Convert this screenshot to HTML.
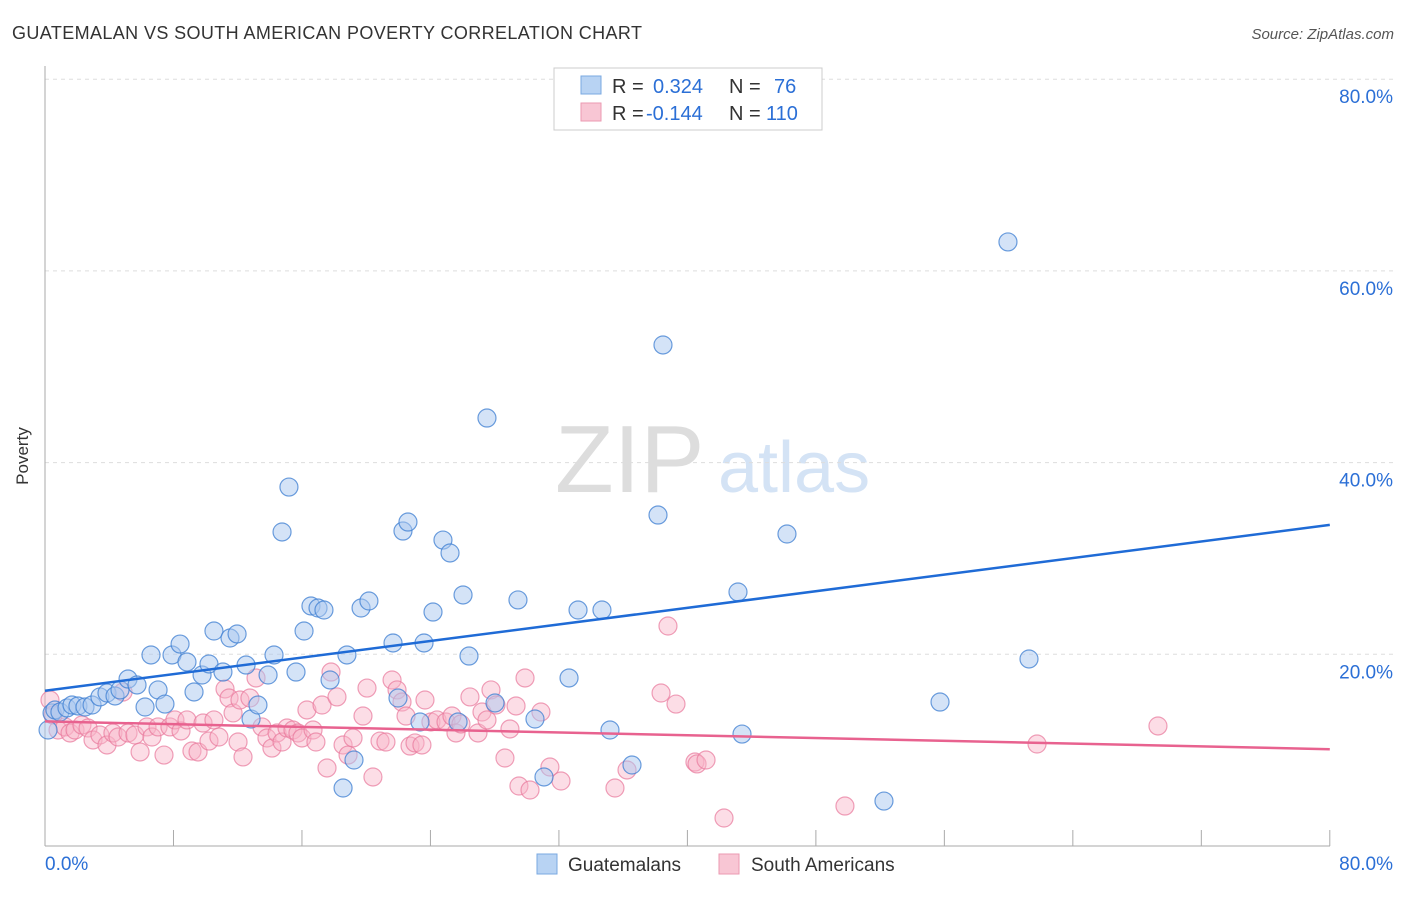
<!DOCTYPE html>
<html><head><meta charset="utf-8"><style>
body{margin:0;background:#fff;font-family:"Liberation Sans",sans-serif}
svg text{font-family:"Liberation Sans",sans-serif}
</style></head><body>
<svg width="1406" height="892">
<text x="12" y="39" font-size="18" fill="#333" textLength="630">GUATEMALAN VS SOUTH AMERICAN POVERTY CORRELATION CHART</text>
<text x="1394" y="39" font-size="15" fill="#555" font-style="italic" text-anchor="end">Source: ZipAtlas.com</text>
<text x="28" y="456" font-size="17" fill="#333" transform="rotate(-90 28 456)" text-anchor="middle">Poverty</text>
<text x="555" y="492" font-size="96" fill="#ddd" font-family="Liberation Serif">ZIP</text>
<text x="718" y="492" font-size="72" fill="#d4e3f5">atlas</text>
<g id="grid"></g><g id="axes"></g><g id="pts"></g><g id="lines"></g>
<g>
<rect x="554" y="68" width="268" height="62" fill="#fff" stroke="#ccc"/>
<rect x="581" y="76" width="20" height="18" fill="#b8d3f3" stroke="#7aa8e0"/>
<rect x="581" y="103" width="20" height="18" fill="#f8c6d4" stroke="#eb9ab2"/>
<text x="612" y="93" font-size="20" fill="#333">R =</text><text x="653" y="93" font-size="20" fill="#2b6fd6">0.324</text>
<text x="729" y="93" font-size="20" fill="#333">N =</text><text x="774" y="93" font-size="20" fill="#2b6fd6">76</text>
<text x="612" y="120" font-size="20" fill="#333">R =</text><text x="646" y="120" font-size="20" fill="#2b6fd6">-0.144</text>
<text x="729" y="120" font-size="20" fill="#333">N =</text><text x="766" y="120" font-size="20" fill="#2b6fd6">110</text>
</g>
<g>
<rect x="537" y="854" width="20" height="20" fill="#b8d3f3" stroke="#7aa8e0"/>
<text x="568" y="871" font-size="19" fill="#333">Guatemalans</text>
<rect x="719" y="854" width="20" height="20" fill="#f8c6d4" stroke="#eb9ab2"/>
<text x="751" y="871" font-size="19" fill="#333">South Americans</text>
</g>
</svg>
<script>
const yTicks=[20,40,60,80];
const xTickLabels=["0.0%","80.0%"];
const bluePx=[[48,730],[52,713],[55,710],[60,712],[67,708],[72,705],[78,706],[85,707],[92,705],[100,697],[107,693],[115,696],[120,690],[128,679],[137,685],[145,707],[151,655],[158,690],[165,704],[172,655],[180,644],[187,662],[194,692],[202,675],[209,664],[214,631],[223,672],[230,638],[237,634],[246,665],[251,719],[258,705],[268,675],[274,655],[282,532],[289,487],[296,672],[304,631],[311,606],[318,608],[324,610],[330,680],[347,655],[343,788],[354,760],[361,608],[369,601],[393,643],[398,698],[403,531],[408,522],[424,643],[420,722],[433,612],[443,540],[450,553],[458,722],[463,595],[469,656],[487,418],[495,703],[518,600],[535,719],[544,777],[569,678],[578,610],[602,610],[610,730],[632,765],[658,515],[663,345],[738,592],[742,734],[787,534],[884,801],[940,702],[1008,242],[1029,659]];
const pinkPx=[[50,700],[53,715],[58,730],[65,727],[70,733],[75,730],[82,725],[88,728],[93,740],[100,735],[107,745],[113,733],[118,737],[123,692],[128,733],[135,735],[140,752],[147,727],[152,737],[158,727],[164,755],[170,727],[175,720],[181,731],[187,720],[192,751],[198,752],[203,723],[209,741],[214,720],[219,737],[225,689],[229,698],[233,713],[238,742],[243,757],[240,700],[250,698],[256,678],[262,727],[267,738],[272,748],[277,733],[282,742],[287,728],[293,730],[298,733],[302,738],[307,710],[313,730],[316,742],[322,705],[327,768],[331,672],[337,697],[343,745],[348,755],[353,738],[363,716],[367,688],[373,777],[380,741],[386,742],[392,680],[397,690],[402,702],[406,716],[410,746],[415,743],[422,745],[425,700],[431,722],[437,720],[446,722],[452,716],[456,733],[461,724],[470,697],[478,733],[482,712],[487,720],[491,690],[496,705],[505,758],[510,729],[516,706],[519,786],[525,678],[530,790],[541,712],[550,767],[561,781],[615,788],[627,770],[661,693],[668,626],[676,704],[695,762],[697,764],[706,760],[724,818],[845,806],[1037,744],[1158,726]];
const blueX=bluePx.map(p=>+((p[0]-45)/16.06).toFixed(2)), blueY=bluePx.map(p=>+((846-p[1])/9.585).toFixed(2));
const pinkX=pinkPx.map(p=>+((p[0]-45)/16.06).toFixed(2)), pinkY=pinkPx.map(p=>+((846-p[1])/9.585).toFixed(2));
const blueTrend=[16.2,33.5], pinkTrend=[13.0,10.1];
const X=v=>45+v*16.06, Y=v=>846-v*9.585;
const NS="http://www.w3.org/2000/svg";
function mk(t,a,parent){const e=document.createElementNS(NS,t);for(const k in a)e.setAttribute(k,a[k]);document.getElementById(parent).appendChild(e);return e;}
yTicks.forEach(t=>{
 const l=mk('line',{x1:45,x2:1394,y1:Y(t),y2:Y(t),stroke:'#ddd','stroke-dasharray':'4,4'},'grid');
 
 
 const tx=mk('text',{x:1393,y:Y(t)+24,'font-size':19,fill:'#2b6fd6','text-anchor':'end'},'grid');
 tx.textContent=t.toFixed(1)+'%';
 
 
});
mk('line',{x1:45,x2:45,y1:66,y2:846,stroke:'#aaa'},'axes');
mk('line',{x1:45,x2:1330,y1:846,y2:846,stroke:'#aaa'},'axes');
for(let i=0;i<=10;i++){const x=X(i*8);mk('line',{x1:x,x2:x,y1:830,y2:846,stroke:'#aaa'},'axes');}
xTickLabels.forEach((s,i)=>{const t=mk('text',{x:i?1393:45,y:870,'font-size':19,fill:'#2b6fd6','text-anchor':i?'end':'start'},'axes');t.textContent=s;
 
 });
function pts(xs,ys,fill,stroke,name){xs.forEach((x,i)=>{const c=mk('circle',{cx:X(x),cy:Y(ys[i]),r:9,fill:fill,stroke:stroke,'stroke-width':1.2},'pts');
 
 });}
pts(pinkX,pinkY,'rgba(248,180,200,0.45)','rgba(232,120,155,0.7)','south-american-point');
pts(blueX,blueY,'rgba(170,200,240,0.5)','rgba(60,125,210,0.75)','guatemalan-point');
const b=mk('line',{x1:X(0),y1:Y(blueTrend[0]),x2:X(80),y2:Y(blueTrend[1]),stroke:'#1f6bd6','stroke-width':2.5},'lines');


const p=mk('line',{x1:X(0),y1:Y(pinkTrend[0]),x2:X(80),y2:Y(pinkTrend[1]),stroke:'#e8628f','stroke-width':2.5},'lines');


</script>
</body></html>
